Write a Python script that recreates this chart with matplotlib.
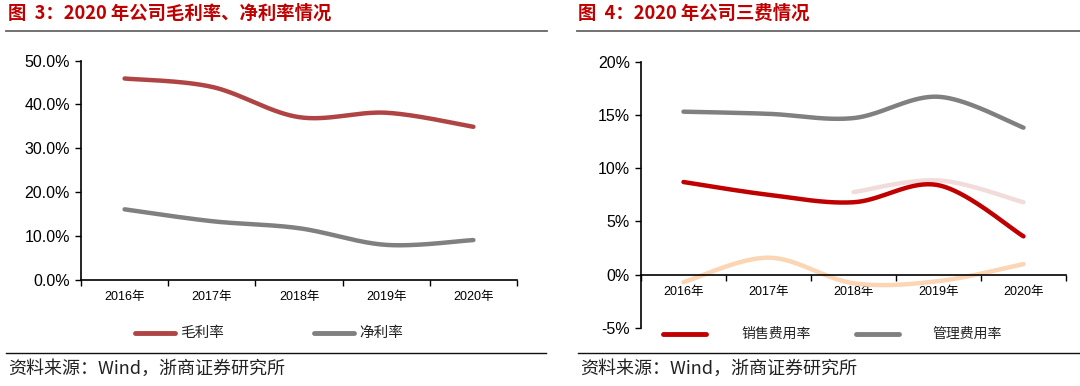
import numpy as np
import matplotlib
matplotlib.use("Agg")
import matplotlib.pyplot as plt
from matplotlib.lines import Line2D
from matplotlib.ticker import FuncFormatter, FixedLocator

plt.rcParams['font.family'] = ['Liberation Sans', 'Noto Sans CJK SC', 'DejaVu Sans']

# ---------------- data ----------------
years = ["2016年", "2017年", "2018年", "2019年", "2020年"]
gross_margin = [45.9, 44.0, 37.1, 38.1, 34.9]
net_margin = [16.1, 13.4, 11.8, 8.0, 9.1]

sales_rate = [8.7, 7.5, 6.8, 8.4, 3.6]
admin_rate = [15.3, 15.1, 14.7, 16.7, 13.8]
fin_rate = [-0.7, 1.6, -0.8, -0.6, 1.0]
rd_years = ["2018年", "2019年", "2020年"]
rd_rate = [7.75, 8.85, 6.8]

title_left = "图  3：2020 年公司毛利率、净利率情况"
title_right = "图  4：2020 年公司三费情况"
source_text = "资料来源：Wind，浙商证券研究所"

# ---------------- helpers ----------------
def smooth(x, y, n=40):
    x = np.asarray(x, float)
    y = np.asarray(y, float)
    px = np.concatenate([[x[0]], x, [x[-1]]])
    py = np.concatenate([[y[0]], y, [y[-1]]])
    xs, ys = [], []
    t = np.linspace(0, 1, n)
    for i in range(1, len(px) - 2):
        p0 = np.array([px[i], py[i]])
        p3 = np.array([px[i + 1], py[i + 1]])
        c1 = p0 + (np.array([px[i + 1], py[i + 1]]) - np.array([px[i - 1], py[i - 1]])) / 6
        c2 = p3 - (np.array([px[i + 2], py[i + 2]]) - np.array([px[i], py[i]])) / 6
        b = ((1 - t) ** 3)[:, None] * p0 + (3 * (1 - t) ** 2 * t)[:, None] * c1 \
            + (3 * (1 - t) * t ** 2)[:, None] * c2 + (t ** 3)[:, None] * p3
        xs.append(b[:, 0]); ys.append(b[:, 1])
    return np.concatenate(xs), np.concatenate(ys)

W, H = 1080, 386
fig = plt.figure(figsize=(W / 100, H / 100), dpi=100)

def fx(px): return px / W
def fy(py): return 1 - py / H

title_color = "#C00000"

# ---------------- left chart ----------------
axL = fig.add_axes([fx(81), fy(280), fx(517) - fx(81), fy(60.5) - fy(280)])
xi = np.arange(len(years))
c_gross = "#B04444"
c_net = "#808080"
sx, sy = smooth(xi, gross_margin)
axL.plot(sx, sy, color=c_gross, lw=3.2, solid_capstyle='round')
sx, sy = smooth(xi, net_margin)
axL.plot(sx, sy, color=c_net, lw=3.2, solid_capstyle='round')
axL.set_xlim(-0.5, len(years) - 0.5)
axL.set_ylim(0, 50)
axL.set_yticks(np.arange(0, 51, 10))
axL.yaxis.set_major_formatter(FuncFormatter(lambda v, p: f"{v:.1f}%"))
axL.xaxis.set_major_locator(FixedLocator(np.arange(-0.5, len(years), 1)))
axL.set_xticklabels([])
axL.xaxis.set_minor_locator(FixedLocator(xi))
axL.set_xticklabels(years, minor=True)
axL.tick_params(axis='x', which='minor', length=0, labelsize=9, pad=8)
axL.tick_params(axis='x', which='major', length=4, width=1, direction='out')
axL.tick_params(axis='y', length=4, width=1, direction='out', labelsize=11.5, pad=4)
for s in ['top', 'right']:
    axL.spines[s].set_visible(False)
for s in ['left', 'bottom']:
    axL.spines[s].set_linewidth(1.2)

# ---------------- right chart ----------------
axR = fig.add_axes([fx(641), fy(328), fx(1066) - fx(641), fy(61.6) - fy(328)])
c_sales = "#C00000"
c_admin = "#808080"
c_fin = "#FCD5B4"
c_rd = "#F2DCDB"
sx, sy = smooth(xi, fin_rate)
axR.plot(sx, sy, color=c_fin, lw=3.2, solid_capstyle='round')
xr = [years.index(y) for y in rd_years]
sx, sy = smooth(xr, rd_rate)
axR.plot(sx, sy, color=c_rd, lw=3.2, solid_capstyle='round')
sx, sy = smooth(xi, sales_rate)
axR.plot(sx, sy, color=c_sales, lw=3.2, solid_capstyle='round')
sx, sy = smooth(xi, admin_rate)
axR.plot(sx, sy, color=c_admin, lw=3.2, solid_capstyle='round')
axR.set_xlim(-0.5, len(years) - 0.5)
axR.set_ylim(-5, 20)
axR.set_yticks(np.arange(-5, 21, 5))
axR.yaxis.set_major_formatter(FuncFormatter(lambda v, p: f"{v:.0f}%"))
axR.spines['bottom'].set_position(('data', 0))
axR.xaxis.set_major_locator(FixedLocator(np.arange(-0.5, len(years), 1)))
axR.set_xticklabels([])
axR.xaxis.set_minor_locator(FixedLocator(xi))
axR.set_xticklabels(years, minor=True)
axR.tick_params(axis='x', which='minor', length=0, labelsize=9, pad=8)
axR.tick_params(axis='x', which='major', length=4, width=1, direction='out')
axR.tick_params(axis='y', length=4, width=1, direction='out', labelsize=11.5, pad=4)
for s in ['top', 'right']:
    axR.spines[s].set_visible(False)
for s in ['left', 'bottom']:
    axR.spines[s].set_linewidth(1.2)

# ---------------- legends ----------------
def leg_line(x0, x1, y, color):
    fig.add_artist(Line2D([fx(x0), fx(x1)], [fy(y), fy(y)], color=color, lw=3.5,
                          solid_capstyle='round', transform=fig.transFigure))

cjk = ['Noto Sans CJK SC', 'DejaVu Sans']
leg_line(135, 175, 333, c_gross)
fig.text(fx(180), fy(333), "毛利率", family=cjk, fontsize=10.5, va='center', ha='left', color='#222222')
leg_line(314, 354, 333, c_net)
fig.text(fx(359), fy(333), "净利率", family=cjk, fontsize=10.5, va='center', ha='left', color='#222222')

leg_line(663, 706, 334, c_sales)
fig.text(fx(741), fy(334), "销售费用率", family=cjk, fontsize=10, va='center', ha='left', color='#222222')
leg_line(856, 899, 334, c_admin)
fig.text(fx(932), fy(334), "管理费用率", family=cjk, fontsize=10, va='center', ha='left', color='#222222')

# ---------------- titles, rules, sources ----------------
fig.text(fx(8), fy(13), title_left, family=cjk, fontsize=13.2, fontweight='bold',
         color=title_color, va='center', ha='left')
fig.text(fx(578), fy(13), title_right, family=cjk, fontsize=13.2, fontweight='bold',
         color=title_color, va='center', ha='left')

def hline(x0, x1, y, color, lw):
    fig.add_artist(Line2D([fx(x0), fx(x1)], [fy(y), fy(y)], color=color, lw=lw,
                          transform=fig.transFigure))

hline(6, 547, 31, "#666666", 1.3)
hline(577, 1080, 31, "#666666", 1.3)
hline(6, 546, 353, "#111111", 1.0)
hline(578, 1080, 353, "#111111", 1.0)

fig.text(fx(8), fy(369), source_text, family=cjk, fontsize=13, va='center', ha='left', color='#222222')
fig.text(fx(580), fy(369), source_text, family=cjk, fontsize=13, va='center', ha='left', color='#222222')

fig.savefig("out.png", dpi=100)
